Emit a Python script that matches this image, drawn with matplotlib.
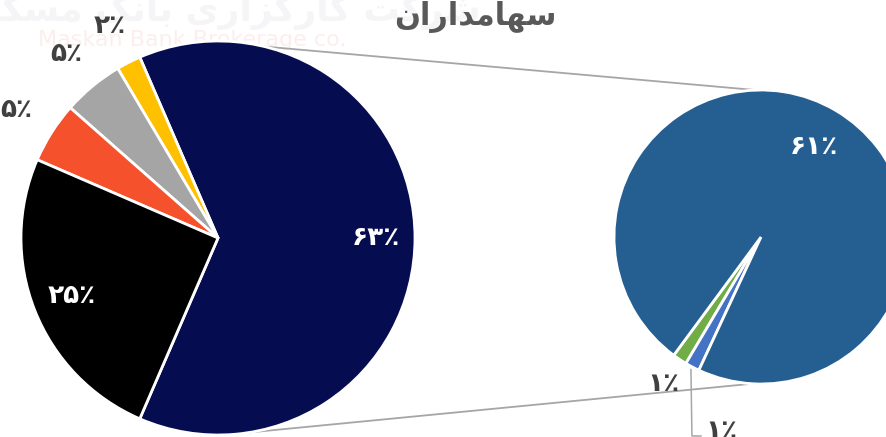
import matplotlib.pyplot as plt
import numpy as np

# shareholders chart (pie of pie), values in percent
main_vals = [63, 2, 5, 5, 25]
main_colors = ['#050C50', '#FFC000', '#A5A5A5', '#F4512C', '#000000']
main_labels = ['۶۳٪', '۲٪', '۵٪', '۵٪', '۲۵٪']

sub_vals = [1, 1, 61]
sub_colors = ['#70AD47', '#4472C4', '#255E91']
sub_labels = ['۱٪', '۱٪', '۶۱٪']

# title / watermark, already shaped (presentation forms, visual order)
title = '\uFEE5\uFE8D\uFEAD\uFE8D\uFEAA\uFEE3\uFE8E\uFEEC\uFEB3'
wm_fa = ('\uFEE6\uFB91\uFEB4\uFEE3 \uFB8F\uFEE7\uFE8E\uFE91 '
         '\uFBFC\uFEAD\uFE8D\uFEB0\uFB94\uFEAD\uFE8E\uFB90 \uFE96\uFB90\uFEAE\uFEB7')
wm_en = 'Maskan Bank Brokerage co.'

fig = plt.figure(figsize=(8.87, 4.37), dpi=100)
ax = fig.add_axes([0, 0, 1, 1])

# watermark
ax.text(225, 428, wm_fa, ha='center', va='center', fontsize=26, fontweight='bold',
        color='#F5F5F7', zorder=0)
ax.text(192, 397, wm_en, ha='center', va='center', fontsize=16,
        color='#FCEEEE', zorder=0)

c1, r1 = (218, 199), 197
c2, r2 = (761, 200), 147

start1 = -360 * main_vals[0] / sum(main_vals) / 2
w1, _ = ax.pie(main_vals, colors=main_colors, center=c1, radius=r1,
               startangle=start1, counterclock=True,
               wedgeprops=dict(edgecolor='white', linewidth=2), frame=True)

for i, w in enumerate(w1):
    mid = np.deg2rad((w.theta1 + w.theta2) / 2)
    if main_vals[i] >= 20:
        d, col = 0.8, 'white'
    else:
        d, col = 1.21, '#404040'
    ax.text(c1[0] + d * r1 * np.cos(mid), c1[1] + d * r1 * np.sin(mid), main_labels[i],
            ha='center', va='center', fontsize=19, fontweight='bold', color=col)

start2 = -115 - 360 * (sub_vals[0] + sub_vals[1]) / sum(sub_vals)
w2, _ = ax.pie(sub_vals, colors=sub_colors, center=c2, radius=r2,
               startangle=start2, counterclock=True,
               wedgeprops=dict(edgecolor='white', linewidth=2), frame=True)
ax.set_xlim(0, 887)
ax.set_ylim(0, 437)
ax.set_aspect('equal')
ax.axis('off')

for i, w in enumerate(w2):
    mid = np.deg2rad((w.theta1 + w.theta2) / 2)
    if i == 2:
        x, y, col = c2[0] + 0.71 * r2 * np.cos(mid), c2[1] + 0.71 * r2 * np.sin(mid), 'white'
    elif i == 0:
        x, y, col = c2[0] + 1.2 * r2 * np.cos(mid), c2[1] + 1.2 * r2 * np.sin(mid), '#404040'
    else:
        ex, ey = c2[0] + 1.02 * r2 * np.cos(mid), c2[1] + 1.02 * r2 * np.sin(mid)
        ax.plot([ex, ex + 1, ex + 10], [ey, 1, 1], color='#A6A6A6', lw=1.1)
        x, y, col = ex + 30, 6, '#404040'
    ax.text(x, y, sub_labels[i], ha='center', va='center', fontsize=19,
            fontweight='bold', color=col)

# connector lines
for a1, a2 in [(76.4, 92), (-80.7, -93.5)]:
    t1, t2 = np.deg2rad(a1), np.deg2rad(a2)
    ax.plot([c1[0] + r1 * np.cos(t1), c2[0] + r2 * np.cos(t2)],
            [c1[1] + r1 * np.sin(t1), c2[1] + r2 * np.sin(t2)],
            color='#A6A6A6', lw=1.3, zorder=0.5)

ax.text(475, 420, title, ha='center', va='center', fontsize=22, fontweight='bold',
        color='#595959')

fig.savefig('out.png', dpi=100)
